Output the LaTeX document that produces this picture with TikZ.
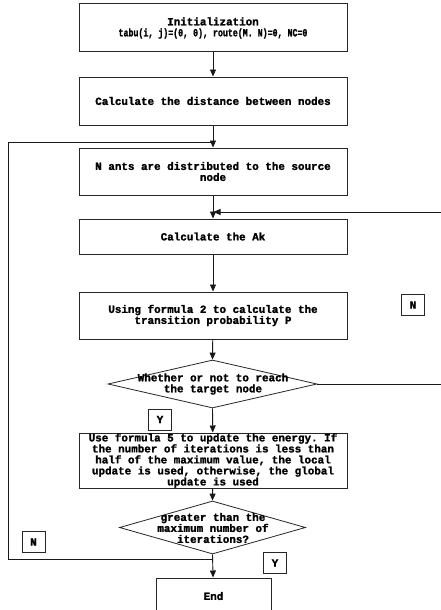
\documentclass[tikz,border=0pt]{standalone}
\usepackage{fontspec}
\usepackage{graphicx}
\setmonofont{Liberation Mono}[BoldFeatures={FakeBold=1.6}]
\usetikzlibrary{arrows.meta,shapes.geometric}
\newcommand\fcfont{\ttfamily\bfseries\fontsize{10.9}{11}\selectfont}
\begin{document}
\begin{tikzpicture}[x=1pt,y=-1pt,
  box/.style={draw=black!85,line width=1pt,minimum width=268pt,inner sep=0pt,align=center,font=\fcfont},
  dia/.style={draw=black!85,line width=0.8pt,shape=diamond,inner sep=0pt},
  txt/.style={inner sep=0pt,align=center,font=\fcfont},
  lab/.style={draw=black!85,line width=1pt,minimum width=23pt,minimum height=21pt,inner sep=0pt,font=\fcfont},
  conn/.style={draw=black!90,line width=0.9pt},
  arr/.style={conn,-{Triangle[length=7pt,width=6pt]}}]
\useasboundingbox (0,0) rectangle (441,610);
\fill[white] (0,0) rectangle (441,610);
\clip (0,0) rectangle (441,610);

\node[box,minimum height=48pt] (init) at (213,28) {Initialization\\\scalebox{0.76}[1]{tabu(i, j)=(0, 0), route(M. N)=0, NC=0}};
\node[box,minimum height=48pt] (dist) at (213,101) {Calculate the distance between nodes};
\node[box,minimum height=47pt] (ants) at (213,171.5) {N ants are distributed to the source\\node};
\node[box,minimum height=35pt] (ak) at (213,236.5) {Calculate the Ak};
\node[box,minimum height=47pt] (prob) at (213,315.5) {Using formula 2 to calculate the\\transition probability P};
\node[dia,minimum width=209pt,minimum height=48pt] (d1) at (212.5,384) {};
\node[txt] (d1t) at (213,384) {Whether or not to reach\\the target node};
\node[box,minimum height=55pt] (upd) at (213,460.5) {Use formula 5 to update the energy. If\\the number of iterations is less than\\half of the maximum value, the local\\update is used, otherwise, the global\\update is used};
\node[dia,minimum width=186pt,minimum height=53pt] (d2) at (212.5,527.5) {};
\node[txt] (d2t) at (213,528) {greater than the\\maximum number of\\iterations?};
\node[box,minimum width=115pt,minimum height=36pt] (end) at (213.5,596) {End};

\node[lab] (n1) at (413,305) {N};
\node[lab] (y1) at (160,419.5) {Y};
\node[lab] (n2) at (33.5,542) {N};
\node[lab] (y2) at (275,563) {Y};

\draw[arr] (init) -- (dist);
\draw[arr] (dist) -- (ants);
\draw[arr] (ants) -- (ak);
\draw[arr] (ak) -- (prob);
\draw[arr] (prob) -- (d1.north);
\draw[arr] (d1.south) -- (upd);
\draw[arr] (upd) -- (d2.north);
\draw[arr] (d2.south) -- (end);

\coordinate (lj) at (213,559);
\coordinate (lc1) at (8,559);
\coordinate (lc2) at (8,142);
\coordinate (tj) at (213,142);
\draw[conn] (lj) -- (lc1) -- (lc2) -- (tj);

\coordinate (rc1) at (452,384);
\coordinate (rc2) at (452,212);
\coordinate (rj) at (213.5,212);
\draw[arr] (d1.east) -- (rc1) -- (rc2) -- (rj);
\end{tikzpicture}
\end{document}
